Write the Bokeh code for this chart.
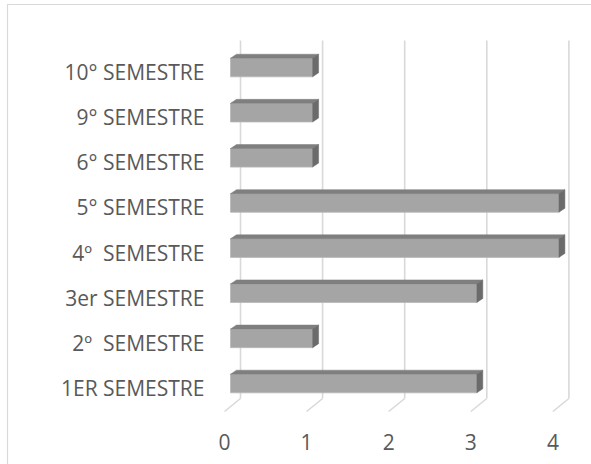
from bokeh.plotting import figure
from bokeh.models import ColumnDataSource
from bokeh.core.properties import value
from bokeh.embed import file_html
from bokeh.resources import INLINE

# Data (the second space in two labels is non-breaking so it is kept)
categories = ["1ER SEMESTRE", "2º\u00a0 SEMESTRE", "3er SEMESTRE", "4º\u00a0 SEMESTRE",
              "5° SEMESTRE", "6° SEMESTRE", "9° SEMESTRE", "10° SEMESTRE"]
counts = [3, 1, 3, 4, 4, 1, 1, 1]
ticks = [0, 1, 2, 3, 4]
tick_labels = ["0", "1", "2", "3", "4"]

# Scale: pixels per unit on x and per category row on y
PX_X = 82.1
PX_Y = 45.14
X0_PX = 230.0   # screen x of value 0 (bar front face)
Y0_PX = 383.0   # screen y of first category centre (from top)
W, H = 591, 464

# 3D look, expressed in data units
BAR_H = 18.6 / PX_Y          # front face thickness
DEPTH_X = 6.0 / PX_X         # bar depth offset
DEPTH_Y = 4.0 / PX_Y
WALL_X = 10.0 / PX_X         # back wall offset from bar front
FLOOR_FRONT_X = -6.0 / PX_X  # front edge of the floor
WALL_BOTTOM = -15.0 / PX_Y
FLOOR_FRONT_Y = -28.0 / PX_Y
WALL_TOP = (Y0_PX - 40.0) / PX_Y

TEXT = "#595959"
GRID = "#d9d9d9"
FRONT = "#a5a5a5"
TOP = "#7f7f7f"
SIDE = "#6b6b6b"
FONT = "Open Sans"
FONT_SIZE = "21px"

p = figure(width=W, height=H, output_backend="svg", toolbar_location=None,
           x_range=(-X0_PX / PX_X, (W - X0_PX) / PX_X),
           y_range=((Y0_PX - H) / PX_Y, Y0_PX / PX_Y),
           x_axis_type=None, y_axis_type=None, min_border=0)
p.outline_line_color = None
p.grid.visible = False
p.background_fill_color = "white"
p.border_fill_color = "white"

# Chart area border
p.quad(left=[(7 - X0_PX) / PX_X], right=[20], top=[(Y0_PX - 4) / PX_Y], bottom=[-20],
       fill_color=None, line_color=GRID, line_width=1.2)

# Back wall gridlines and floor edges
gx_back = [t + WALL_X for t in ticks]
p.segment(x0=gx_back, y0=[WALL_BOTTOM] * len(ticks), x1=gx_back, y1=[WALL_TOP] * len(ticks),
          line_color=GRID, line_width=1.6)
p.segment(x0=gx_back, y0=[WALL_BOTTOM] * len(ticks),
          x1=[t + FLOOR_FRONT_X for t in ticks], y1=[FLOOR_FRONT_Y] * len(ticks),
          line_color=GRID, line_width=1.6)

# Bars: front face, top face, right side
ys = list(range(len(categories)))
front = ColumnDataSource(dict(left=[0] * len(counts), right=counts,
                              bottom=[y - BAR_H / 2 for y in ys], top=[y + BAR_H / 2 for y in ys]))
p.quad(left="left", right="right", bottom="bottom", top="top", source=front,
       fill_color=FRONT, line_color="#b8b8b8", line_width=0.8)

top_xs, top_ys, side_xs, side_ys = [], [], [], []
for y, c in zip(ys, counts):
    t = y + BAR_H / 2
    b = y - BAR_H / 2
    top_xs.append([0, c, c + DEPTH_X, DEPTH_X])
    top_ys.append([t, t, t + DEPTH_Y, t + DEPTH_Y])
    side_xs.append([c, c + DEPTH_X, c + DEPTH_X, c])
    side_ys.append([b, b + DEPTH_Y, t + DEPTH_Y, t])
p.patches(top_xs, top_ys, fill_color=TOP, line_color=TOP, line_width=0.5)
p.patches(side_xs, side_ys, fill_color=SIDE, line_color=SIDE, line_width=0.5)

# Category labels (baseline a little below each bar's centre)
p.text(x=[-26.0 / PX_X] * len(categories), y=[y - 4.5 / PX_Y for y in ys], text=categories,
       text_align="right", text_baseline="alphabetic", text_font=value(FONT),
       text_font_size=FONT_SIZE, text_color=TEXT)

# Value labels under the floor
p.text(x=[t + FLOOR_FRONT_X for t in ticks], y=[(Y0_PX - 441.0) / PX_Y] * len(ticks),
       text=tick_labels, text_align="center", text_baseline="alphabetic",
       text_font=value(FONT), text_font_size=FONT_SIZE, text_color=TEXT)

open("out.html", "w").write(file_html(p, INLINE))
